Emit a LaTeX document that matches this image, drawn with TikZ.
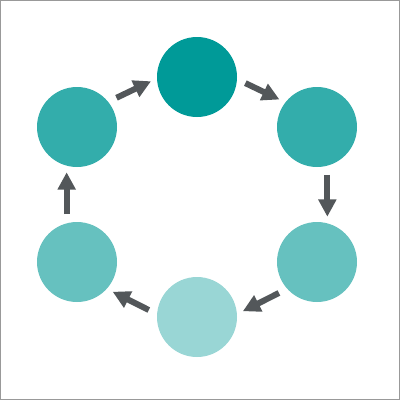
\documentclass[tikz,border=0pt]{standalone}
\usepackage{tikz}
\usetikzlibrary{arrows.meta}
\definecolor{tealA}{HTML}{009A98}
\definecolor{tealB}{HTML}{33ADAB}
\definecolor{tealC}{HTML}{66C1BF}
\definecolor{tealD}{HTML}{99D6D5}
\definecolor{arrgray}{HTML}{53575A}

\begin{document}
\begin{tikzpicture}[x=0.75pt, y=-0.75pt,
		stage/.style={circle, minimum size=60pt, inner sep=0pt, outer sep=0pt},
		flow/.style={arrgray, line width=4.5pt, -{Triangle[width=13pt,length=13pt]}, shorten <=7pt, shorten >=5pt}]
		\useasboundingbox (0,0) rectangle (400,400);
		\draw[gray!80, line width=0.9pt] (0.75,0.75) rectangle (399.25,399.25);
		\node[stage, fill=tealA] (c1) at (197,77) {};
		\node[stage, fill=tealB] (c2) at (317,127) {};
		\node[stage, fill=tealC] (c3) at (317,262) {};
		\node[stage, fill=tealD] (c4) at (197,317) {};
		\node[stage, fill=tealC] (c5) at (77,262) {};
		\node[stage, fill=tealB] (c6) at (77,127) {};
		\draw[flow] (c1.-3) -- (c2.142);
		\draw[flow] (c2.-75) -- (c3.75);
		\draw[flow] (c3.-138) -- (c4.4);
		\draw[flow] (c4.176) -- (c5.-42);
		\draw[flow] (c5.105) -- (c6.-105);
		\draw[flow] (c6.39) -- (c1.182);
	\end{tikzpicture}
\end{document}
